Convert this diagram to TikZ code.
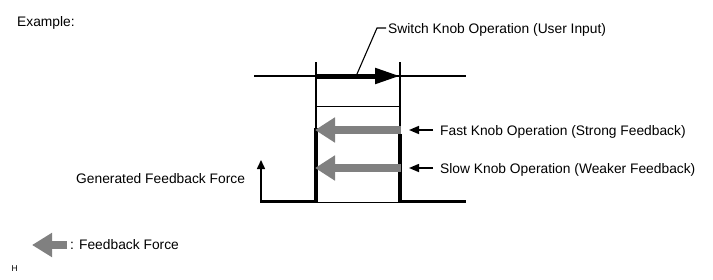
\documentclass[tikz,border=0pt]{standalone}
\usepackage{fontspec}
\setmainfont{Liberation Sans}
\usetikzlibrary{arrows.meta}
\begin{document}
\begin{tikzpicture}[x=1pt,y=-1pt,
  thinline/.style={line width=1.2pt,black},
  thickline/.style={line width=3.6pt,black,line join=miter,line cap=butt},
  grayarrow/.style={line width=8pt,draw={rgb,255:red,128;green,128;blue,128},-{Triangle[length=20pt,width=24pt]}},
  smallarrow/.style={line width=1.5pt,-{Triangle[length=10pt,width=8pt]}},
  lbl/.style={anchor=base west,inner sep=0pt,font=\fontsize{13.8}{16}\selectfont}]
\useasboundingbox (0,0) rectangle (713,279);
% coordinates
\coordinate (LT) at (316,62);
\coordinate (RT) at (400,62);
\coordinate (HL) at (254,76);
\coordinate (HR) at (466,76);
\coordinate (AL) at (316,76);
\coordinate (AR) at (400,76);
\coordinate (ML) at (316,106.5);
\coordinate (MR) at (400,106.5);
\coordinate (LK) at (316,128);
\coordinate (RK) at (400,134);
\coordinate (BL0) at (260,201.5);
\coordinate (BL1) at (316,201.5);
\coordinate (BR1) at (400,201.5);
\coordinate (BR0) at (466,201.5);
\coordinate (UP) at (261,160);
\coordinate (UB) at (261,202);
% thin lines
\draw[thinline] (HL) -- (HR);
\draw[thinline] (LT) -- (LK);
\draw[thinline] (RT) -- (RK);
\draw[thinline] (ML) -- (MR);
\draw[thinline] (316,202.5) -- (400,202.5);
% thick force profile
\draw[thickline] (BL0) -- (BL1) -- (LK);
\draw[thickline] (RK) -- (BR1) -- (BR0);
% up arrow
\draw[line width=1.5pt,-{Triangle[length=9pt,width=8pt]}] (UB) -- (UP);
% switch operation arrow
\draw[line width=5pt,-{Triangle[length=25pt,width=15pt]}] (AL) -- (AR);
% gray arrows
\draw[grayarrow] (401,130) coordinate (FR) -- (315,130) coordinate (FL);
\draw[grayarrow] (401,168) coordinate (SR) -- (315,168) coordinate (SL);
% small black arrows
\draw[smallarrow] (433,130) coordinate (fa) -- (409,130) coordinate (fb);
\draw[smallarrow] (433,168) coordinate (sa) -- (409,168) coordinate (sb);
% leader
\draw[line width=1.1pt] (357,74) coordinate (ld0) -- (377,28) coordinate (ld1) -- (386,28) coordinate (ld2);
% legend
\draw[grayarrow,line width=7.5pt,-{Triangle[length=20pt,width=23pt]}] (67,245) coordinate (gR) -- (32,245) coordinate (gL);
% texts
\node[lbl] (ex) at (17,26.5) {Example:};
\node[lbl] (sw) at (388,33) {Switch Knob Operation (User Input)};
\node[lbl] (fast) at (440,135.5) {Fast Knob Operation (Strong Feedback)};
\node[lbl] (slow) at (440,173.5) {Slow Knob Operation (Weaker Feedback)};
\node[lbl] (gen) at (76,183) {Generated Feedback Force};
\node[lbl] (leg) at (70,249) {: Feedback Force};
\node[anchor=base west,inner sep=0pt,font=\fontsize{8.5}{10}\selectfont] (h) at (11.5,271) {H};
\end{tikzpicture}
\end{document}
